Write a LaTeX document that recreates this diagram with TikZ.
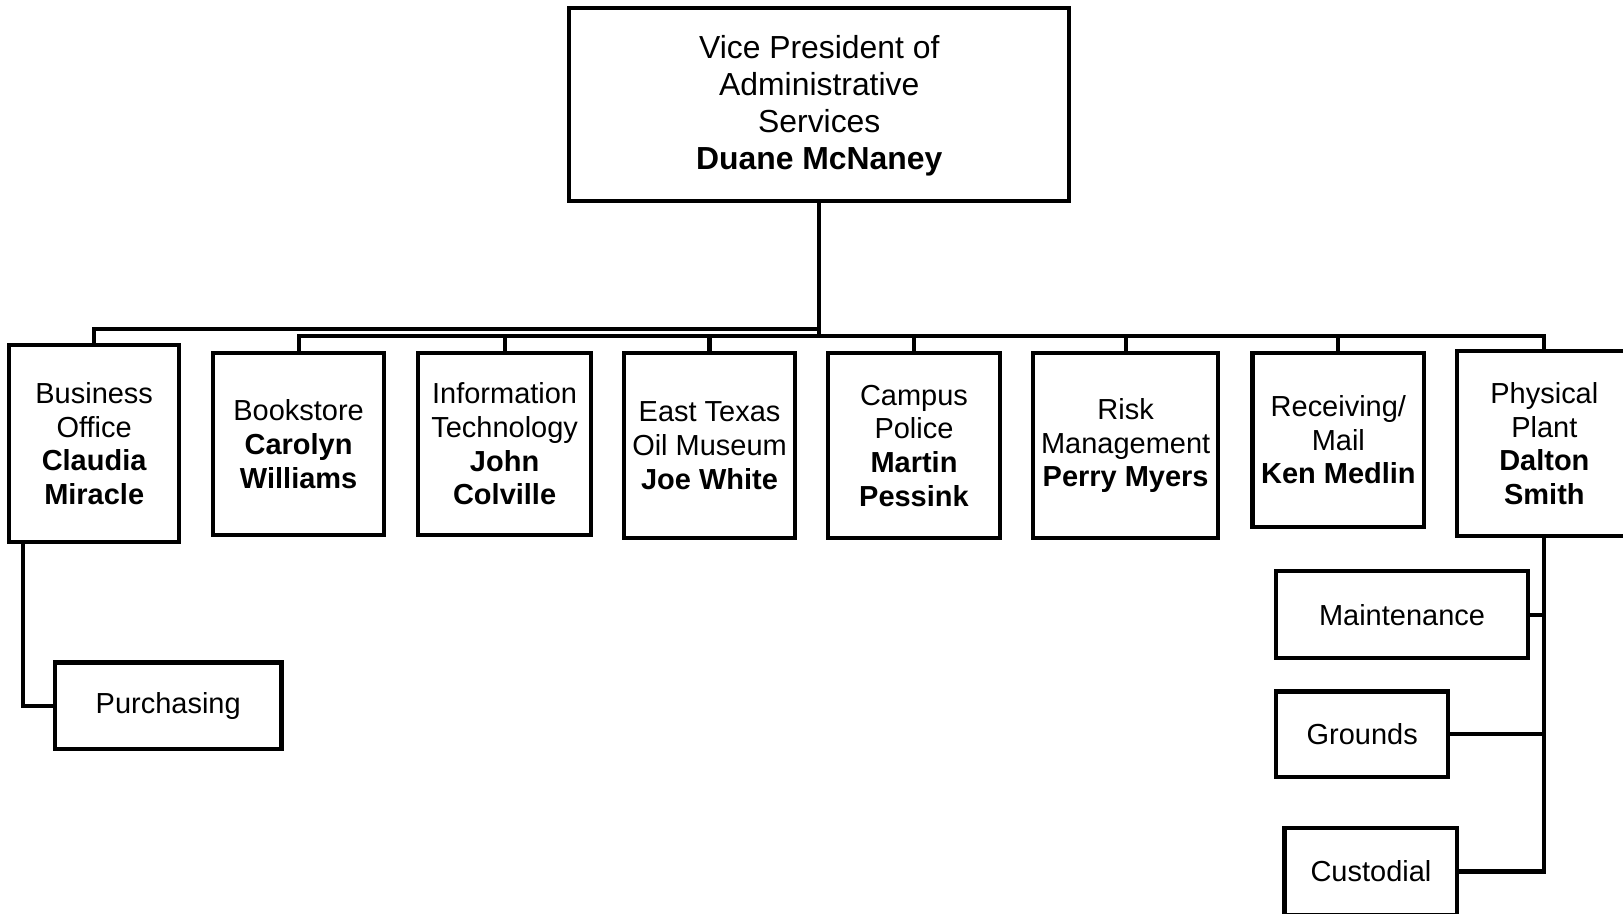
\documentclass[tikz,border=0pt]{standalone}
\usepackage{fontspec}
\setmainfont{Liberation Sans}
\begin{document}
\begin{tikzpicture}[x=1pt,y=-1pt,
  box/.style={draw=black, line width=4pt, fill=white, inner sep=0pt, align=center,
    font=\fontsize{28}{32.5}\selectfont},
  topbox/.style={box, font=\fontsize{30.8}{35.7}\selectfont},
  conn/.style={draw=black, line width=4pt}]
\useasboundingbox (0,0) rectangle (1568,883);
\clip (0,0) rectangle (1568,883);
\fill[white] (0,0) rectangle (1568,883);

% nodes
\node[topbox, minimum width=483pt, minimum height=186pt] (vp) at (791.5,101)
  {\strut Vice President of\\Administrative\\Services\\\textbf{Duane McNaney}};
\node[box, minimum width=164pt, minimum height=191pt] (bo) at (91,428.5)
  {Business\\Office\\\textbf{Claudia}\\\textbf{Miracle}};
\node[box, minimum width=165pt, minimum height=176pt] (bk) at (288.5,429)
  {Bookstore\\\textbf{Carolyn}\\\textbf{Williams}};
\node[box, minimum width=167pt, minimum height=176pt] (it) at (487.5,429)
  {Information\\Technology\\\textbf{John}\\\textbf{Colville}};
\node[box, minimum width=165pt, minimum height=179pt] (et) at (685.5,430.5)
  {East Texas\\Oil Museum\\\textbf{Joe White}};
\node[box, minimum width=166pt, minimum height=179pt] (cp) at (883,430.5)
  {Campus\\Police\\\textbf{Martin}\\\textbf{Pessink}};
\node[box, minimum width=179pt, minimum height=179pt] (rm) at (1087.5,430.5)
  {Risk\\Management\\\textbf{Perry Myers}};
\node[box, minimum width=166pt, minimum height=168pt] (rc) at (1293,425)
  {Receiving/\\Mail\\\textbf{Ken Medlin}};
\node[box, minimum width=168pt, minimum height=179pt] (pp) at (1492,428.5)
  {Physical\\Plant\\\textbf{Dalton}\\\textbf{Smith}};
\node[box, minimum width=219pt, minimum height=84pt] (pu) at (162.5,682) {Purchasing};
\node[box, minimum width=243pt, minimum height=84pt] (mt) at (1354.5,594) {Maintenance};
\node[box, minimum width=166pt, minimum height=83pt] (gr) at (1316,709.5) {Grounds};
\node[box, minimum width=167pt, minimum height=84pt] (cu) at (1324.5,842) {Custodial};

\coordinate (barU) at (0,318);
\coordinate (barL) at (0,325);

% connectors
\draw[conn] (bo.north) -- (bo.north |- barU) -| (vp.south);
\draw[conn] (vp.south) -- (vp.south |- barL);
\draw[conn] (bk.north) -- (bk.north |- barL) -| (pp.north);
\draw[conn] (it.north) -- (it.north |- barL);
\draw[conn] (et.north) -- (et.north |- barL);
\draw[conn] (cp.north) -- (cp.north |- barL);
\draw[conn] (rm.north) -- (rm.north |- barL);
\draw[conn] (rc.north) -- (rc.north |- barL);
\draw[conn] ([xshift=15pt]bo.south west) |- (pu.west);
\draw[conn] (pp.south) |- (cu.east);
\draw[conn] (mt.east) -- (mt.east -| pp.south);
\draw[conn] (gr.east) -- (gr.east -| pp.south);
\end{tikzpicture}
\end{document}
